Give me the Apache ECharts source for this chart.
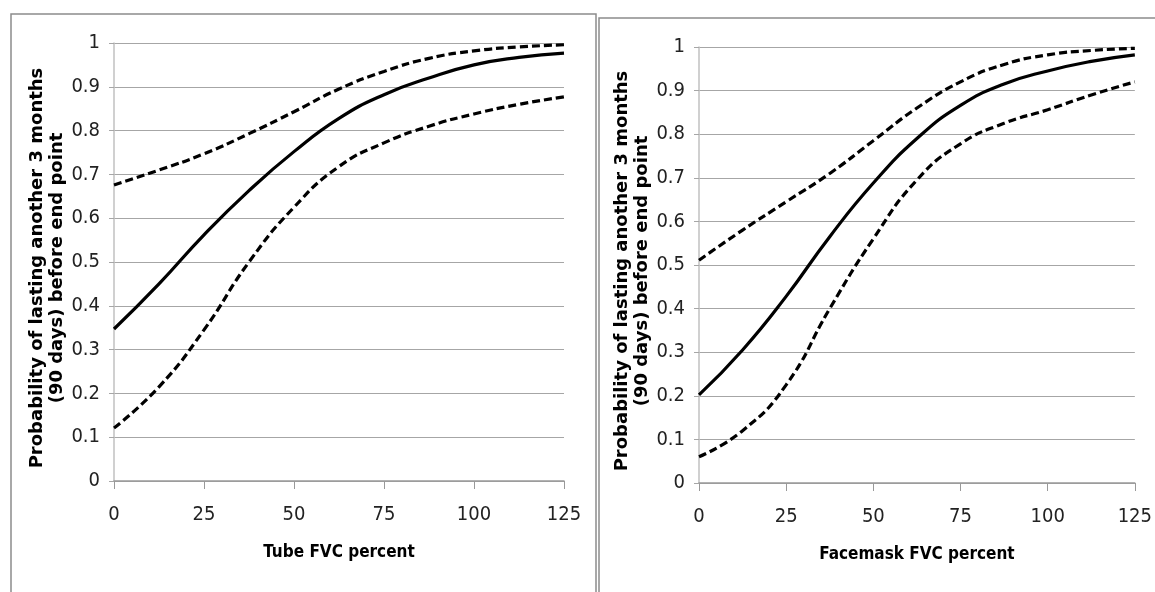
<!DOCTYPE html>
<html>
<head>
<meta charset="utf-8">
<script src="https://cdn.jsdelivr.net/npm/echarts@6/dist/echarts.min.js"></script>
<style>
html,body{margin:0;padding:0;background:#fff;}
#chart{width:1155px;height:592px;}
</style>
</head>
<body>
<div id="chart"></div>
<script>
// Shared x positions (FVC percent)
var xValues = [0, 12.5, 25, 37.5, 50, 62.5, 75, 87.5, 100, 112.5, 125];

// Left panel: Tube FVC percent
var tubeEstimate = [0.347, 0.45, 0.562, 0.663, 0.752, 0.828, 0.882, 0.92, 0.95, 0.967, 0.977];
var tubeUpper    = [0.676, 0.71, 0.747, 0.793, 0.843, 0.895, 0.935, 0.965, 0.982, 0.991, 0.996];
var tubeLower    = [0.121, 0.215, 0.345, 0.5, 0.625, 0.718, 0.772, 0.81, 0.838, 0.86, 0.877];

// Right panel: Facemask FVC percent
var maskEstimate = [0.202, 0.305, 0.428, 0.565, 0.688, 0.79, 0.866, 0.915, 0.945, 0.967, 0.982];
var maskUpper    = [0.511, 0.58, 0.645, 0.71, 0.785, 0.86, 0.92, 0.96, 0.982, 0.992, 0.997];
var maskLower    = [0.06, 0.12, 0.225, 0.4, 0.56, 0.695, 0.778, 0.825, 0.856, 0.89, 0.92];

var xTitles = ['Tube FVC percent', 'Facemask FVC percent'];
var yTitle = 'Probability of lasting another 3 months\n(90 days) before end point';

function pairs(ys){ return xValues.map(function(x,i){ return [x, ys[i]]; }); }

var tickFont = "'DejaVu Sans Condensed', 'DejaVu Sans', sans-serif";

function xAxisCfg(idx){
  return {
    type:'value', gridIndex: idx, min:0, max:125, interval:25,
    name: xTitles[idx], nameLocation:'middle', nameGap:63,
    nameTextStyle:{fontFamily:tickFont, fontWeight:'bold', fontSize:17, color:'#000'},
    axisLine:{show:true, lineStyle:{color:'#999', width:1.5}},
    axisTick:{show:true, length:8, lineStyle:{color:'#999'}},
    axisLabel:{margin:24, fontFamily:tickFont, fontSize:20, color:'#222'},
    splitLine:{show:false}
  };
}
function yAxisCfg(idx){
  return {
    type:'value', gridIndex: idx, min:0, max:1, interval:0.1,
    name: yTitle, nameLocation:'middle', nameGap:42, nameRotate:90,
    nameTextStyle:{fontFamily:"'DejaVu Sans', Verdana, sans-serif", fontWeight:'bold', fontSize:18, color:'#000', lineHeight:20, align:'center', padding:[0,12,0,0]},
    axisLine:{show:true, lineStyle:{color:'#c0c0c0', width:1.5}},
    axisTick:{show:true, length:5, lineStyle:{color:'#a6a6a6'}},
    axisLabel:{margin:14, fontFamily:tickFont, fontSize:20, color:'#222'},
    splitLine:{show:true, lineStyle:{color:'#a6a6a6', width:1}}
  };
}
function lineSeries(idx, ys, dashed){
  return {
    type:'line', xAxisIndex:idx, yAxisIndex:idx, data:pairs(ys),
    smooth:true, symbol:'none',
    lineStyle:{color:'#000', width:3.2, type: dashed ? [8,4] : 'solid'}
  };
}

var chart = echarts.init(document.getElementById('chart'), null, {renderer:'canvas'});
chart.setOption({
  backgroundColor:'#fff',
  animation:false,
  graphic:[
    {type:'rect', shape:{x:11, y:14, width:585, height:620}, style:{fill:'none', stroke:'#8c8c8c', lineWidth:1.5}, z:-1},
    {type:'rect', shape:{x:599, y:18, width:620, height:620}, style:{fill:'none', stroke:'#8c8c8c', lineWidth:1.5}, z:-1}
  ],
  grid:[
    {left:114, right:591, top:43, bottom:111},
    {left:699, right:19, top:47, bottom:109}
  ],
  xAxis:[xAxisCfg(0), xAxisCfg(1)],
  yAxis:[yAxisCfg(0), yAxisCfg(1)],
  series:[
    lineSeries(0, tubeUpper, true),
    lineSeries(0, tubeEstimate, false),
    lineSeries(0, tubeLower, true),
    lineSeries(1, maskUpper, true),
    lineSeries(1, maskEstimate, false),
    lineSeries(1, maskLower, true)
  ]
});
</script>
</body>
</html>
